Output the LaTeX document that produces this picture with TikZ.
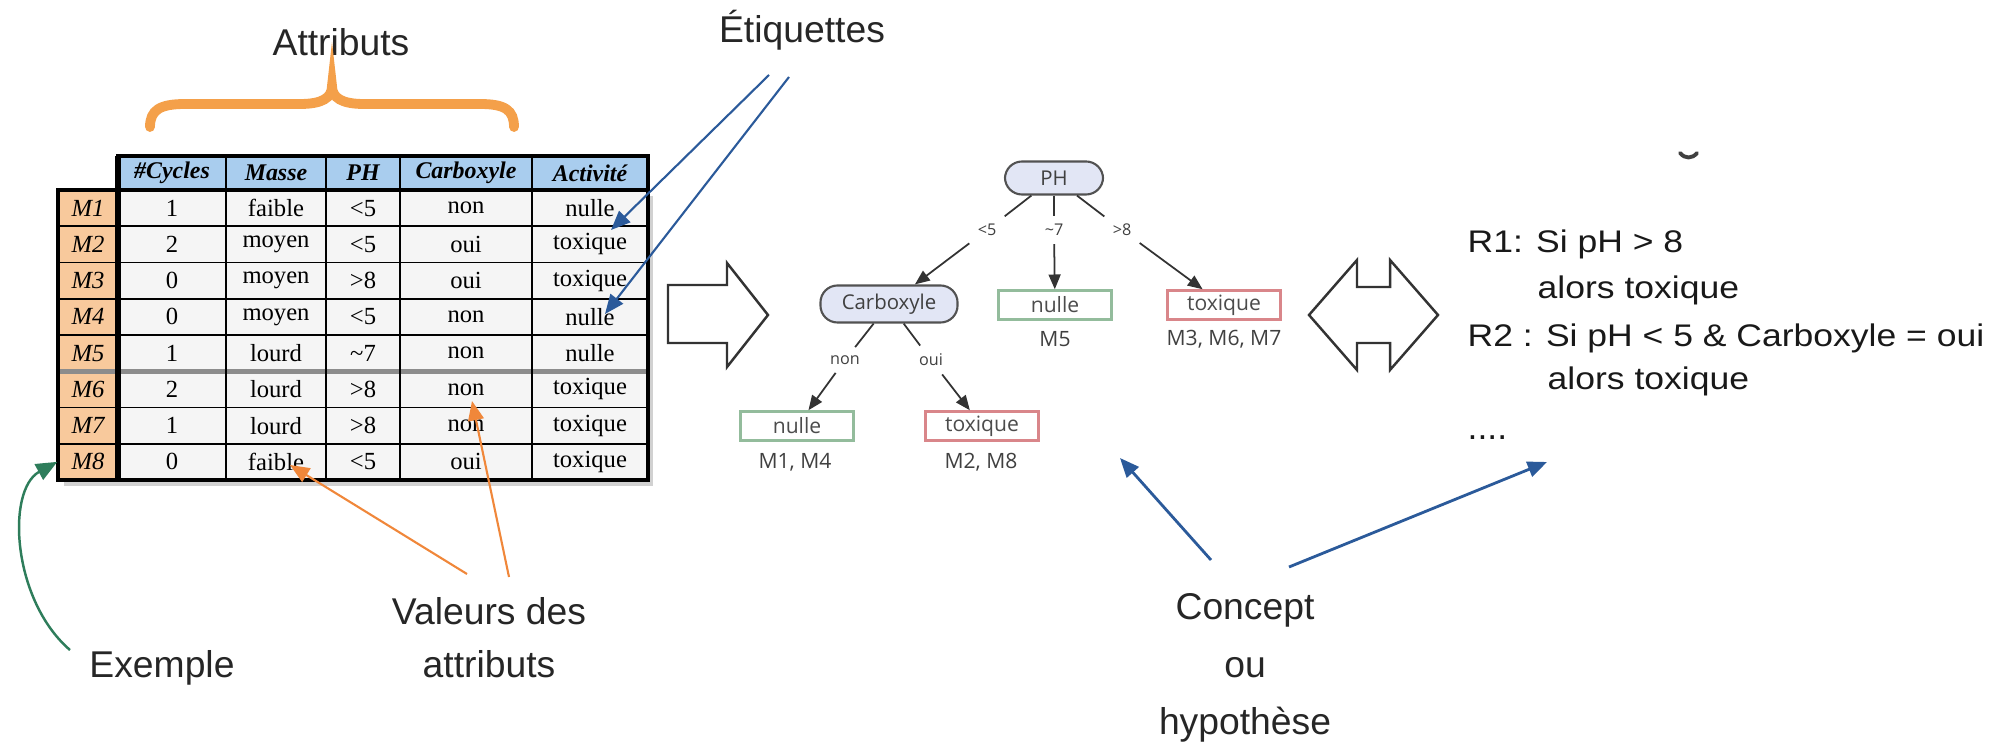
\documentclass[tikz,border=0pt]{standalone}
\usepackage{fontspec}
\setmainfont{Liberation Sans}
\newfontfamily\tabfont{Liberation Serif}
\newfontfamily\treefont{Open Sans}
\usetikzlibrary{arrows.meta}

\definecolor{hdrblue}{HTML}{A9CDEE}
\definecolor{labelorange}{HTML}{F8C99C}
\definecolor{cellgray}{HTML}{F5F5F5}
\definecolor{arrowblue}{HTML}{2B5A9A}
\definecolor{braceorange}{HTML}{F4A04A}
\definecolor{valorange}{HTML}{F0873A}
\definecolor{exgreen}{HTML}{2E7D5B}
\definecolor{testfill}{HTML}{E2E6F5}
\definecolor{leafgreen}{HTML}{93BC9C}
\definecolor{leafred}{HTML}{D9868A}
\definecolor{treegray}{HTML}{333333}

\newcommand{\ruleline}[1]{\scalebox{1}[0.88]{#1}}

\begin{document}
\begin{tikzpicture}[x=0.01cm, y=-0.01cm,
  caption/.style={font=\fontsize{10.6}{16}\selectfont, text=black!85, inner sep=1pt, align=center},
  ruletext/.style={font=\fontsize{10.1}{12}\selectfont, text=black!90, anchor=base west, inner sep=0pt},
  cell/.style={font=\tabfont\fontsize{7}{8}\selectfont, inner sep=0pt},
  hcell/.style={font=\tabfont\bfseries\itshape\fontsize{6.8}{8}\selectfont, inner sep=0pt},
  lcell/.style={font=\tabfont\itshape\fontsize{7}{8}\selectfont, inner sep=0pt,
    minimum width=0.6cm, minimum height=0.3625cm},
  gridthin/.style={line width=0.5pt, black},
  gridthick/.style={line width=1.3pt, black},
  testnode/.style={draw=treegray!85, line width=0.6pt, fill=testfill, rounded corners=0.17cm,
    inner sep=0pt, font=\treefont\fontsize{5.8}{7}\selectfont, text=black!75},
  leafnode/.style={line width=0.7pt, fill=white, inner sep=0pt, minimum width=1.13cm,
    minimum height=0.29cm, font=\treefont\fontsize{6}{7}\selectfont, text=black!70},
  leafnul/.style={leafnode, draw=leafgreen},
  leaftox/.style={leafnode, draw=leafred},
  leafcount/.style={font=\treefont\fontsize{6}{7}\selectfont, text=black!75, inner sep=0pt},
  branch/.style={font=\treefont\fontsize{4.6}{5}\selectfont, text=black!75, inner sep=2.2pt},
  tline/.style={treegray, line width=0.5pt},
  tarrow/.style={treegray, line width=0.5pt, -{Triangle[length=4.2pt,width=3.4pt]}},
  bluearrow/.style={arrowblue, line width=0.6pt, -{Triangle[length=5.5pt,width=4.5pt]}},
  orangearrow/.style={valorange, line width=0.6pt, -{Triangle[length=5.5pt,width=4.5pt]}},
  greenarrow/.style={exgreen, line width=0.7pt, -{Triangle[length=6pt,width=5pt]}},
  hollow/.style={draw=black!80, line width=0.7pt, fill=white, line join=miter}
]
\useasboundingbox (0,0) rectangle (2009,743);

% ---------- data table ----------
\fill[black!18] (64,480) rectangle (653,486);
\fill[black!18] (648,196) rectangle (653,486);
\fill[cellgray] (118,190) rectangle (648,480);
\fill[labelorange] (58,190) rectangle (118,480);
\fill[hdrblue] (118,156) rectangle (648,190);
\foreach \yy in {226.25,262.5,298.75,335,407.5,443.75}
  \draw[gridthin] (58,\yy) -- (648,\yy);
\draw[line width=1.4pt, black!45] (58,371.25) -- (648,371.25);
\foreach \xx in {226,326,400,532}
  \draw[gridthin] (\xx,156) -- (\xx,480);
\draw[gridthick] (118,156) rectangle (648,190);
\draw[gridthick] (58,190) rectangle (648,480);
\draw[line width=1.9pt] (118,156) -- (118,480);

\node[hcell] (h-cyc) at (172,173) {\#Cycles};
\node[hcell] (h-mas) at (276,173) {Masse};
\node[hcell] (h-ph)  at (363,173) {PH};
\node[hcell] (h-car) at (466,173) {Carboxyle};
\node[hcell] (h-act) at (590,173) {Activité};

\foreach \i/\cy/\ma/\ph/\ca/\ac in {
  1/1/faible/{<5}/non/nulle,
  2/2/moyen/{<5}/oui/toxique,
  3/0/moyen/{>8}/oui/toxique,
  4/0/moyen/{<5}/non/nulle,
  5/1/lourd/{\textasciitilde 7}/non/nulle,
  6/2/lourd/{>8}/non/toxique,
  7/1/lourd/{>8}/non/toxique,
  8/0/faible/{<5}/oui/toxique}{
  \pgfmathsetmacro\yc{190+36.25*(\i-0.5)}
  \node[lcell] (lab-\i) at (88,\yc) {M\i};
  \node[cell] (cyc-\i) at (172,\yc) {\cy};
  \node[cell] (mas-\i) at (276,\yc) {\ma};
  \node[cell] (ph-\i)  at (363,\yc) {\ph};
  \node[cell] (car-\i) at (466,\yc) {\ca};
  \node[cell] (act-\i) at (590,\yc) {\ac};
}

% ---------- captions around the table ----------
\node[caption] (attr) at (341,42) {Attributs};
\draw[braceorange, line width=2.8pt, line cap=round]
  (150,127) .. controls (150,110) and (160,104) .. (185,104) -- (300,104)
  .. controls (322,104) and (332,98) .. (332,86)
  .. controls (332,98) and (342,104) .. (364,104) -- (480,104)
  .. controls (505,104) and (514,110) .. (514,127);

\node[caption] (etiq) at (802,30) {Étiquettes};
\coordinate (etiqA) at (769,75);
\coordinate (etiqB) at (789,77);
\coordinate (tipA) at (611,230);
\coordinate (tipB) at (605,314);
\draw[bluearrow] (etiqA) -- (tipA);
\draw[bluearrow] (etiqB) -- (tipB);

\node[caption] (exemple) at (162,668) {Exemple};
\coordinate (exStart) at (70,650);
\draw[greenarrow] (exStart) .. controls (12,600) and (6,490) .. (lab-8.west);

\node[caption, font=\fontsize{10.6}{15}\selectfont] (valeurs) at (489,638) {Valeurs des\\attributs};
\coordinate (valA) at (467,574);
\coordinate (valB) at (509,577);
\coordinate (tipMasse) at (290,465);
\coordinate (tipCarb) at (472,401);
\draw[orangearrow] (valA) -- (tipMasse);
\draw[orangearrow] (valB) -- (tipCarb);

% ---------- hollow arrows ----------
\draw[hollow] (668,285) -- (727,285) -- (727,263) -- (768,315) -- (727,367)
  -- (727,343) -- (668,343) -- cycle;
\draw[hollow] (1309,315) -- (1357,260) -- (1357,287) -- (1390,287) -- (1390,260)
  -- (1438,315) -- (1390,370) -- (1390,343) -- (1357,343) -- (1357,370) -- cycle;

% ---------- decision tree ----------
\node[testnode, minimum width=0.98cm, minimum height=0.33cm] (ph) at (1054,178) {PH};
\node[testnode, minimum width=1.37cm, minimum height=0.37cm] (carb) at (889,304) {Carboxyle};
\node[leafnul] (nulM5) at (1055,305) {nulle};
\node[leaftox] (toxR) at (1224,305) {toxique};
\node[leafnul] (nulL) at (797,426) {nulle};
\node[leaftox] (toxL) at (982,426) {toxique};

\node[leafcount] (cM5) at (1055,339) {M5};
\node[leafcount] (cR) at (1224,339) {M3, M6, M7};
\node[leafcount] (cL) at (795,462) {M1, M4};
\node[leafcount] (cB) at (981,462) {M2, M8};

\node[branch] (b1) at (987,230) {<5};
\node[branch] (b2) at (1054,230) {\textasciitilde 7};
\node[branch] (b3) at (1122,230) {>8};
\node[branch] (b4) at (845,360) {non};
\node[branch] (b5) at (931,360) {oui};

\draw[tline] (ph) -- (b1);
\draw[tarrow] (b1) -- (carb);
\draw[tline] (ph) -- (b2);
\draw[tarrow] (b2) -- (nulM5);
\draw[tline] (ph) -- (b3);
\draw[tarrow] (b3) -- (toxR);
\draw[tline] (carb) -- (b4);
\draw[tarrow] (b4) -- (nulL);
\draw[tline] (carb) -- (b5);
\draw[tarrow] (b5) -- (toxL);

% ---------- rules ----------
\node[ruletext] (r1a) at (1467,253) {\ruleline{R1: Si pH > 8}};
\node[ruletext] (r1b) at (1537,299) {\ruleline{alors toxique}};
\node[ruletext] (r2a) at (1467,347) {\ruleline{R2 : Si pH < 5 \& Carboxyle = oui}};
\node[ruletext] (r2b) at (1547,390) {\ruleline{alors toxique}};
\node[ruletext] (more) at (1467,440) {....};
\draw[black!75, line width=1.1pt, line cap=round] (1680,153) .. controls (1685,159) and (1692,159) .. (1697,153);

% ---------- concept labels ----------
\node[caption, font=\fontsize{10.6}{16.3}\selectfont] (concept) at (1245,668) {Concept\\ou\\hypothèse};
\coordinate (cA) at (1211,560);
\coordinate (cB) at (1289,567);
\coordinate (tipTree) at (1120,458);
\coordinate (tipRules) at (1547,462);
\draw[bluearrow, line width=0.8pt] (cA) -- (tipTree);
\draw[bluearrow, line width=0.8pt] (cB) -- (tipRules);
\end{tikzpicture}
\end{document}
